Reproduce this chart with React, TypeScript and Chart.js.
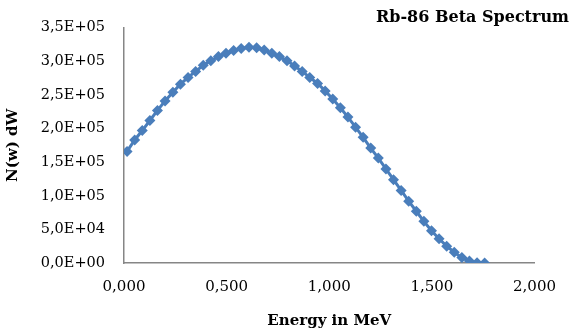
import React, { useEffect, useRef } from "react";
import { Chart, registerables } from "chart.js";

Chart.register(...registerables);

const chartTitle = "Rb-86 Beta Spectrum";
const xAxisTitle = "Energy in MeV";
const yAxisTitle = "N(w) dW";

const energy = [
  0.015, 0.052, 0.089, 0.126, 0.163, 0.2, 0.238, 0.275, 0.312, 0.349,
  0.386, 0.423, 0.46, 0.497, 0.534, 0.571, 0.609, 0.646, 0.683, 0.72,
  0.757, 0.794, 0.831, 0.868, 0.905, 0.943, 0.98, 1.017, 1.054, 1.091,
  1.128, 1.165, 1.202, 1.239, 1.276, 1.313, 1.35, 1.387, 1.424, 1.461,
  1.498, 1.535, 1.572, 1.609, 1.646, 1.683, 1.72, 1.757,
];

const counts = [
  166000, 183000, 197000, 212000, 227000, 241000, 254000, 266000, 276000, 285000,
  294000, 301000, 307000, 312000, 316000, 319000, 321000, 320000, 317000, 312000,
  307000, 301000, 293000, 285000, 276000, 267000, 256000, 244000, 231000, 217000,
  202000, 187000, 171000, 156000, 140000, 124000, 108000, 92000, 77000, 62000,
  48000, 36000, 25000, 16000, 8000, 3000, 500, 0,
];

const xMin = 0;
const xMax = 2;
const xStep = 0.5;
const yMin = 0;
const yMax = 350000;
const yStep = 50000;

const serif = "'DejaVu Serif', serif";
const blue = "#4A7EBB";

const titlePlugin = {
  id: "cornerTitle",
  afterDraw(chart: any) {
    const ctx = chart.ctx;
    ctx.save();
    ctx.font = `bold 16px ${serif}`;
    ctx.fillStyle = "#000";
    ctx.textAlign = "right";
    ctx.textBaseline = "middle";
    ctx.fillText(chartTitle, 569, 18);
    ctx.restore();
  },
};

export default function App() {
  const ref = useRef<HTMLCanvasElement>(null);
  useEffect(() => {
    if (!ref.current) return;
    const data = energy.map((e, i) => ({ x: e, y: counts[i] }));
    const chart = new Chart(ref.current, {
      type: "scatter",
      data: {
        datasets: [
          {
            data,
            showLine: true,
            borderColor: blue,
            backgroundColor: blue,
            borderWidth: 3,
            pointStyle: "rectRot",
            pointRadius: 5.5,
            pointBorderWidth: 0,
            pointBorderColor: blue,
          },
        ],
      },
      options: {
        animation: false,
        responsive: false,
        maintainAspectRatio: false,
        layout: { padding: { left: 0, right: 26, top: 16, bottom: 0 } },
        plugins: {
          legend: { display: false },
          tooltip: { enabled: false },
        },
        scales: {
          x: {
            type: "linear",
            min: xMin,
            max: xMax,
            afterFit: (s: any) => {
              s.height = 70;
            },
            ticks: {
              stepSize: xStep,
              padding: 15,
              color: "#000",
              font: { family: serif, size: 15 },
              maxRotation: 0,
              callback: (v: any) => Number(v).toFixed(3).replace(".", ","),
            },
            grid: { display: false, drawTicks: false },
            border: { display: true, color: "#868686", width: 1.5 },
            title: {
              display: true,
              text: xAxisTitle,
              color: "#000",
              font: { family: serif, size: 15, weight: "bold" },
              padding: { top: 0, bottom: 3 },
            },
          },
          y: {
            type: "linear",
            min: yMin,
            max: yMax,
            afterFit: (s: any) => {
              s.width = 124;
            },
            ticks: {
              stepSize: yStep,
              padding: 19,
              color: "#000",
              font: { family: serif, size: 14.5 },
              callback: (v: any) => {
                const n = Number(v);
                if (n === 0) return "0,0E+00";
                const exp = Math.floor(Math.log10(n));
                const mant = n / Math.pow(10, exp);
                return mant.toFixed(1).replace(".", ",") + "E+" + String(exp).padStart(2, "0");
              },
            },
            grid: { display: false, drawTicks: false },
            border: { display: true, color: "#868686", width: 1.5 },
            title: {
              display: true,
              text: yAxisTitle,
              color: "#000",
              font: { family: serif, size: 15, weight: "bold" },
              padding: { top: 4, bottom: 0 },
            },
          },
        },
      },
      plugins: [titlePlugin],
    } as any);
    return () => chart.destroy();
  }, []);
  return (
    <div style={{ position: "fixed", left: 0, top: 0, width: 571, height: 333, background: "#fff" }}>
      <canvas ref={ref} width={571} height={333} style={{ width: 571, height: 333 }} />
    </div>
  );
}
